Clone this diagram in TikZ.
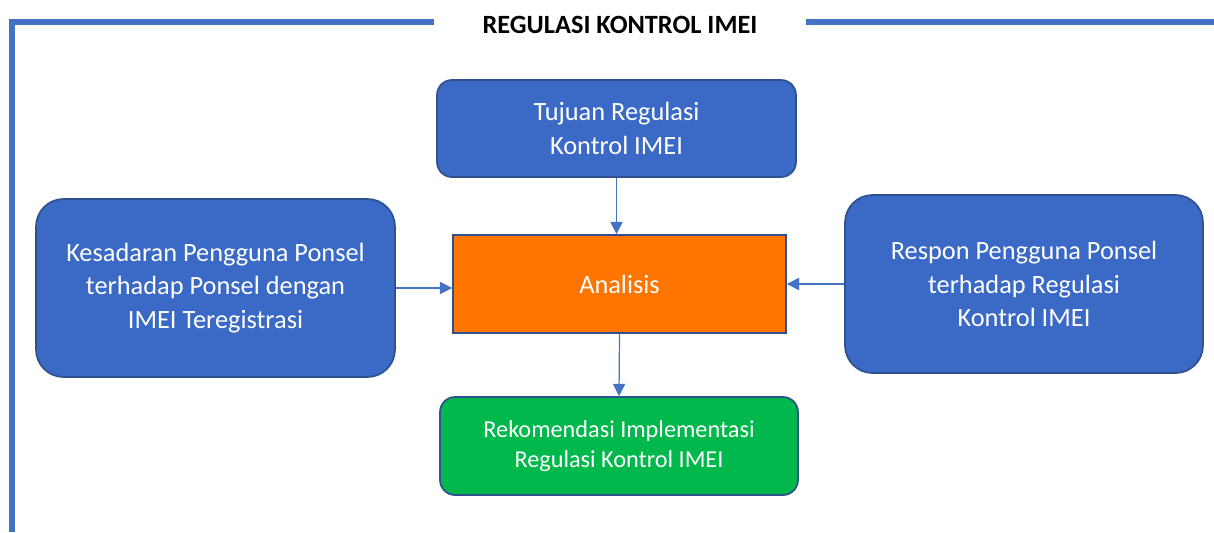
\documentclass[tikz,border=0pt]{standalone}
\usepackage{fontspec}
\setmainfont{Carlito}
\usetikzlibrary{arrows.meta}

\definecolor{boxblue}{HTML}{3B69C6}
\definecolor{edgeblue}{HTML}{2F528F}
\definecolor{linkblue}{HTML}{4472C4}
\definecolor{boxorange}{HTML}{FF7500}
\definecolor{boxgreen}{HTML}{00B84C}

\tikzset{
    box/.style={draw=edgeblue, line width=1pt, text=white, align=center,
        font=\fontsize{15}{19}\selectfont, inner sep=0pt},
    link/.style={draw=linkblue, line width=0.7pt, -{Triangle[length=7pt,width=7pt]}}
}

\begin{document}
\begin{tikzpicture}[x=0.02cm, y=-0.02cm]

        \useasboundingbox (0, 0) rectangle (1214, 532);

        % frame and heading
        \coordinate (frameleft)  at (434, 22);
        \coordinate (framecorner) at (12, 22);
        \coordinate (framebottom) at (12, 532);
        \coordinate (frameright) at (806, 22);
        \coordinate (frameend)   at (1214, 22);
        \draw [linkblue, line width=3.4pt] (frameleft) -- (framecorner) -- (framebottom);
        \draw [linkblue, line width=3.4pt] (frameright) -- (frameend);
        \node (title) at (620, 25) {\fontsize{15}{18}\selectfont\bfseries REGULASI KONTROL IMEI};

        \node [box, fill=boxblue, rounded corners=0.3cm, minimum width=7.18cm, minimum height=1.94cm]
            (tujuan) at (616.5, 128.5) {Tujuan Regulasi\\Kontrol IMEI};
        \node [box, fill=boxblue, rounded corners=0.55cm, minimum width=7.18cm, minimum height=3.56cm]
            (kesadaran) at (215.5, 288) {Kesadaran Pengguna Ponsel\\terhadap Ponsel dengan\\IMEI Teregistrasi};
        \node [box, fill=boxorange, minimum width=6.66cm, minimum height=1.96cm]
            (analisis) at (619.5, 284) {Analisis};
        \node [box, fill=boxblue, rounded corners=0.55cm, minimum width=7.16cm, minimum height=3.56cm]
            (respon) at (1024, 284) {Respon Pengguna Ponsel\\terhadap Regulasi\\Kontrol IMEI};
        \node [box, fill=boxgreen, rounded corners=0.3cm, minimum width=7.16cm, minimum height=1.96cm,
            font=\fontsize{13.8}{17}\selectfont]
            (rekomendasi) at (619, 446) {Rekomendasi Implementasi\\Regulasi Kontrol IMEI};

        \draw [link] (tujuan.south) -- (tujuan.south |- analisis.north);
        \draw [link] (kesadaran.east) -- (kesadaran.east -| analisis.west);
        \draw [link] (respon.west) -- (respon.west -| analisis.east);
        \draw [link] (analisis.south) -- (rekomendasi.north);

    \end{tikzpicture}
\end{document}
